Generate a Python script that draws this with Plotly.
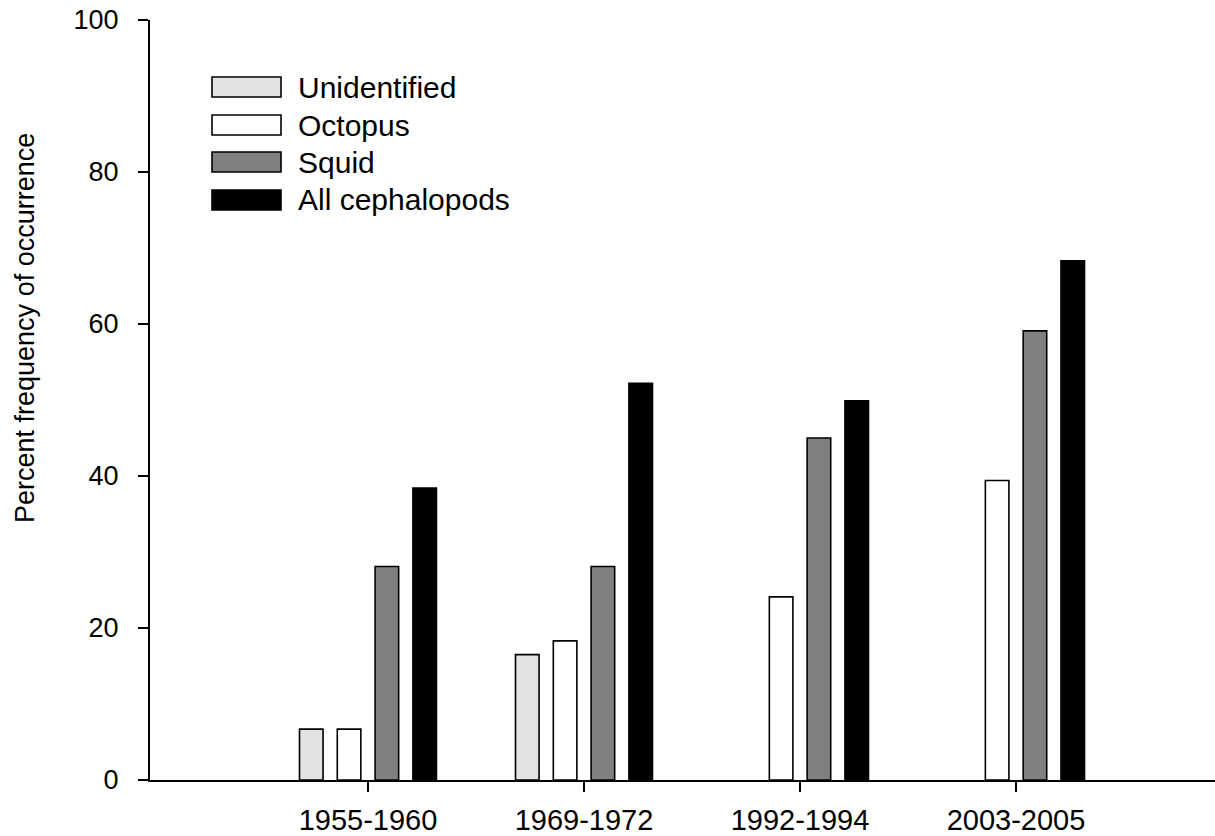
import plotly.graph_objects as go

# Sampling periods and percent frequency of occurrence per prey group
periods = ["1955-1960", "1969-1972", "1992-1994", "2003-2005"]
unidentified = [6.7, 16.5, None, None]
octopus = [6.7, 18.3, 24.1, 39.4]
squid = [28.1, 28.1, 45.0, 59.1]
all_cephalopods = [38.4, 52.2, 49.9, 68.3]

series_names = ["Unidentified", "Octopus", "Squid", "All cephalopods"]
series_values = [unidentified, octopus, squid, all_cephalopods]
fills = ["#e3e3e3", "#ffffff", "#808080", "#000000"]

FONT = "Liberation Sans, Arial, sans-serif"
x_pos = list(range(len(periods)))

fig = go.Figure()
for name, vals, fill in zip(series_names, series_values, fills):
    fig.add_trace(go.Bar(
        x=x_pos, y=vals, name=name,
        marker=dict(color=fill, line=dict(color="#000000", width=1.6)),
        showlegend=False,
    ))

# Page geometry used to place the legend and axis title in paper units
W, H = 1215, 836
ML, MR, MT, MB = 150, 0, 20, 56
pw, ph = W - ML - MR, H - MT - MB

def px_x(v):
    return (v - ML) / pw

def px_y(v):
    return (H - MB - v) / ph

# Legend: key boxes with labels in the upper-left of the plot
legend_rows = [87, 125, 162, 200]
for name, fill, cy in zip(series_names, fills, legend_rows):
    fig.add_shape(type="rect", xref="paper", yref="paper",
                  x0=px_x(212), x1=px_x(281), y0=px_y(cy + 10), y1=px_y(cy - 10),
                  fillcolor=fill, line=dict(color="#000000", width=1.6))
    fig.add_annotation(xref="paper", yref="paper", x=px_x(296), y=px_y(cy),
                       text=name, showarrow=False, xanchor="left", yanchor="middle",
                       font=dict(family=FONT, size=30, color="#000000"))

# Y axis title
fig.add_annotation(xref="paper", yref="paper", x=px_x(25), y=px_y(328),
                   text="Percent frequency of occurrence", showarrow=False,
                   textangle=-90, xanchor="center", yanchor="middle",
                   font=dict(family=FONT, size=27, color="#000000"))

fig.update_layout(
    width=W, height=H,
    margin=dict(l=ML, r=MR, t=MT, b=MB, pad=0),
    paper_bgcolor="#ffffff", plot_bgcolor="#ffffff",
    barmode="group", bargap=0.3, bargroupgap=0.377,
    font=dict(family=FONT, color="#000000"),
)
fig.update_xaxes(
    range=[-1.009, 3.921], tickvals=x_pos, ticktext=periods,
    showline=True, linecolor="#000000", linewidth=2,
    ticks="outside", ticklen=10, tickwidth=2, tickcolor="#000000",
    showgrid=False, zeroline=False, tickfont=dict(family=FONT, size=29),
    ticklabelstandoff=3, automargin=False,
)
fig.update_yaxes(
    range=[0, 100], tickvals=[0, 20, 40, 60, 80, 100],
    showline=True, linecolor="#000000", linewidth=2,
    ticks="outside", ticklen=10, tickwidth=2, tickcolor="#000000",
    showgrid=False, zeroline=False, tickfont=dict(family=FONT, size=27),
    ticklabelstandoff=14, automargin=False,
)

fig.write_html("out.html")
